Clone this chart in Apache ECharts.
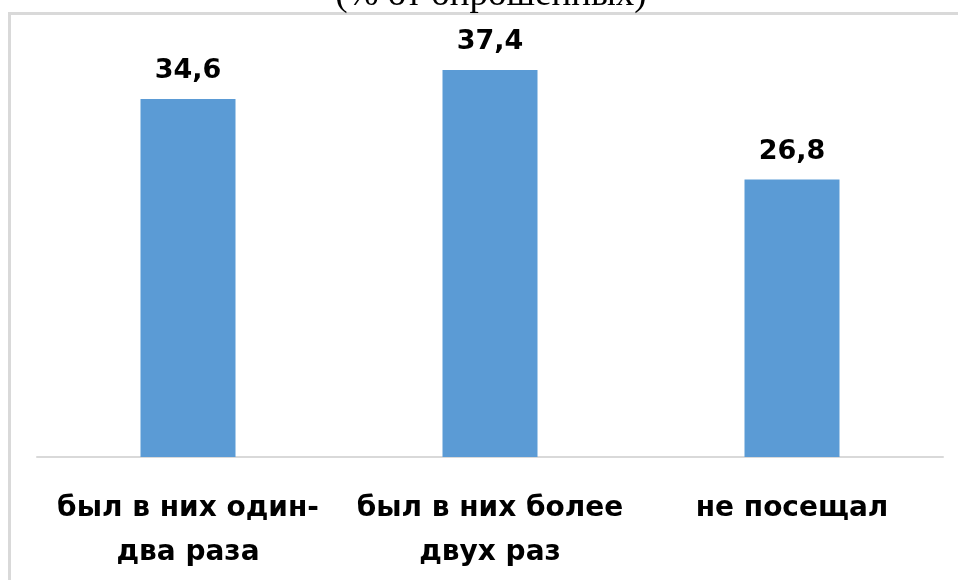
<!DOCTYPE html>
<html>
<head>
<meta charset="utf-8">
<script src="https://cdn.jsdelivr.net/npm/echarts@6/dist/echarts.min.js"></script>
<style>
  html, body { margin: 0; padding: 0; background: #fff; }
  #main { width: 958px; height: 580px; }
</style>
</head>
<body>
<div id="main"></div>
<script>
var categories = ['был в них один-\nдва раза', 'был в них более\nдвух раз', 'не посещал'];
var values = [34.6, 37.4, 26.8];

var chartDom = document.getElementById('main');
var myChart = echarts.init(chartDom);
var option;

option = {
    backgroundColor: '#fff',
    title: {
        text: '(% от опрошенных)',
        left: 486,
        textAlign: 'center',
        top: -28,
        textStyle: {
            fontFamily: 'Liberation Serif',
            fontWeight: 'normal',
            fontSize: 37,
            color: '#000'
        }
    },
    graphic: [
        {
            // рамка области диаграммы
            type: 'rect',
            shape: { x: 9.5, y: 13.5, width: 1000, height: 600 },
            style: { fill: 'none', stroke: '#d9d9d9', lineWidth: 3 },
            silent: true
        }
    ],
    grid: {
        left: 37,
        right: 15,
        top: 43,
        bottom: 123
    },
    xAxis: {
        type: 'category',
        data: categories,
        axisLine: { lineStyle: { color: '#d9d9d9', width: 2 } },
        axisTick: { show: false },
        axisLabel: {
            interval: 0,
            margin: 30,
            color: '#000',
            fontFamily: 'DejaVu Sans',
            fontWeight: 'bold',
            fontSize: 28,
            lineHeight: 44
        }
    },
    yAxis: {
        type: 'value',
        min: 0,
        max: 40,
        show: false,
        splitLine: { show: false }
    },
    series: [
        {
            type: 'bar',
            data: values,
            barWidth: 95,
            itemStyle: { color: '#5b9bd5' },
            label: {
                show: true,
                position: 'top',
                distance: 14,
                color: '#000',
                fontFamily: 'DejaVu Sans',
                fontWeight: 'bold',
                fontSize: 27,
                formatter: function (p) {
                    return String(p.value).replace('.', ',');
                }
            }
        }
    ]
};

option && myChart.setOption(option);
</script>
</body>
</html>
